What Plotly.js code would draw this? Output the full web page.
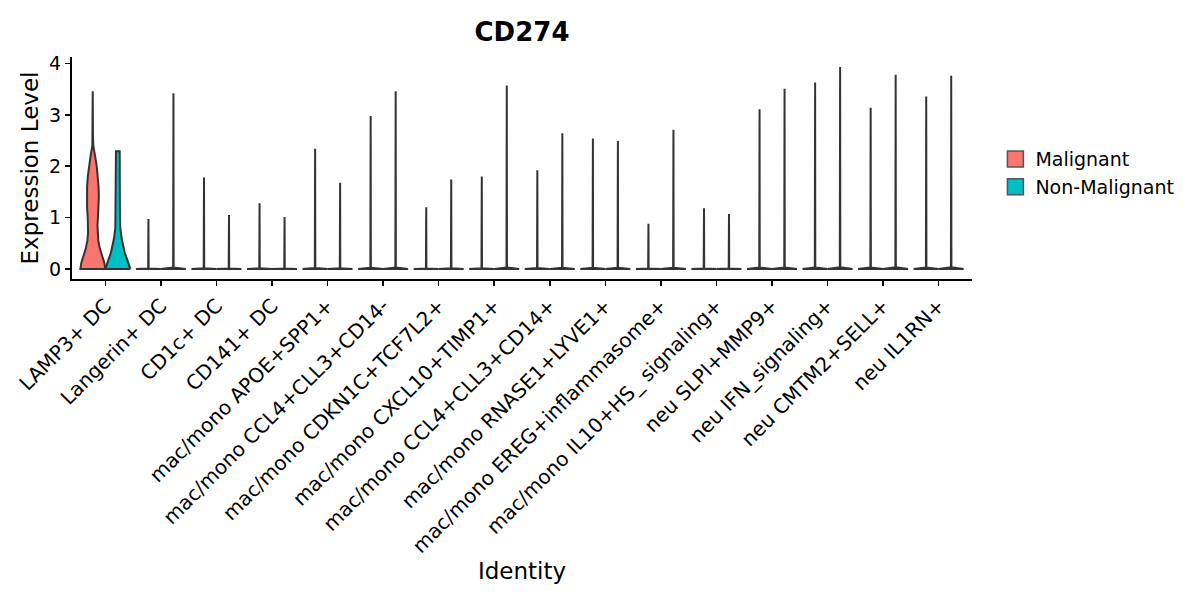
<!DOCTYPE html>
<html>
<head>
<meta charset="utf-8">
<script src="https://cdn.plot.ly/plotly-3.0.1.min.js"></script>
<style>html,body{margin:0;padding:0;background:#fff;}#chart{width:1200px;height:600px;}</style>
</head>
<body>
<div id="chart"></div>
<script>
// ---- data ----
const categories = [
  "LAMP3+ DC", "Langerin+ DC", "CD1c+ DC", "CD141+ DC",
  "mac/mono APOE+SPP1+", "mac/mono CCL4+CLL3+CD14-", "mac/mono CDKN1C+TCF7L2+",
  "mac/mono CXCL10+TIMP1+", "mac/mono CCL4+CLL3+CD14+", "mac/mono RNASE1+LYVE1+",
  "mac/mono EREG+inflammasome+", "mac/mono IL10+HS_ signaling+",
  "neu SLPI+MMP9+", "neu IFN_signaling+", "neu CMTM2+SELL+", "neu IL1RN+"
];
const groups = ["Malignant", "Non-Malignant"];
// maximum expression per violin
const malignantMax    = [3.46, 0.97, 1.78, 1.28, 2.34, 2.98, 1.20, 1.80, 1.92, 2.54, 0.88, 1.18, 3.11, 3.63, 3.14, 3.36];
const nonMalignantMax = [2.29, 3.42, 1.05, 1.01, 1.68, 3.46, 1.74, 3.57, 2.64, 2.49, 2.71, 1.07, 3.51, 3.93, 3.78, 3.76];
// density profile (relative width) of the LAMP3+ DC violins
const lampMalLevels = [0, 0.12, 0.25, 0.4, 0.55, 0.7, 0.85, 1.0, 1.2, 1.4, 1.6, 1.8, 2.0, 2.2, 2.4, 2.6, 3.0, 3.46];
const lampMalWidths = [1.0, 0.92, 0.75, 0.56, 0.44, 0.38, 0.37, 0.41, 0.46, 0.48, 0.46, 0.40, 0.31, 0.18, 0.04, 0.012, 0.01, 0.008];
const lampNonLevels = [0, 0.1, 0.2, 0.32, 0.45, 0.6, 0.8, 1.0, 1.5, 2.0, 2.29];
const lampNonWidths = [1.0, 0.88, 0.72, 0.55, 0.42, 0.30, 0.20, 0.17, 0.16, 0.155, 0.15];
// profile of the violins whose cells are almost all zero
const flatLevelsFrac = [0, 0.008, 1];
const flatWidths = [1.0, 0.02, 0.005];

const colors = {"Malignant": "#F8766D", "Non-Malignant": "#00BFC4"};

const halfWidth = 0.225;
const dodge = 0.225;
const outline = "#333333";

function violinPath(center, levels, widths) {
  const xs = [], ys = [];
  for (let k = 0; k < levels.length; k++) { xs.push(center + widths[k] * halfWidth); ys.push(levels[k]); }
  for (let k = levels.length - 1; k >= 0; k--) { xs.push(center - widths[k] * halfWidth); ys.push(levels[k]); }
  xs.push(xs[0]); ys.push(ys[0]);
  return {xs, ys};
}

function buildTrace(group, maxArr, firstLevels, firstWidths, offset) {
  const X = [], Y = [];
  categories.forEach((c, i) => {
    let levels, widths;
    if (i === 0) { levels = firstLevels; widths = firstWidths; }
    else { levels = flatLevelsFrac.map(f => f * maxArr[i]); widths = flatWidths; }
    const p = violinPath(i + offset, levels, widths);
    X.push(...p.xs, null); Y.push(...p.ys, null);
  });
  return {
    type: "scatter", mode: "lines", name: group, x: X, y: Y,
    fill: "toself", fillcolor: colors[group],
    line: {color: outline, width: 2},
    hoverinfo: "skip", showlegend: false
  };
}

function legendKey(group) {
  return {
    type: "scatter", mode: "markers", name: group, x: [null], y: [null],
    marker: {symbol: "square", size: 16, color: colors[group], line: {color: "#555555", width: 1.5}},
    showlegend: true, hoverinfo: "skip"
  };
}

const traces = [
  buildTrace("Malignant", malignantMax, lampMalLevels, lampMalWidths, -dodge),
  buildTrace("Non-Malignant", nonMalignantMax, lampNonLevels, lampNonWidths, dodge),
  legendKey("Malignant"),
  legendKey("Non-Malignant")
];

const font = "DejaVu Sans, sans-serif";
const layout = {
  width: 1200, height: 600,
  paper_bgcolor: "#fff", plot_bgcolor: "#fff",
  margin: {l: 72, r: 228, t: 57, b: 321},
  title: {text: "<b>CD274</b>", font: {family: font, size: 26, color: "#000"},
          x: 0.5, xref: "paper", xanchor: "center", y: 0.947, yref: "container", yanchor: "middle"},
  xaxis: {
    range: [-0.6, categories.length - 0.4],
    tickvals: categories.map((c, i) => i), ticktext: categories,
    tickangle: -45, tickfont: {family: font, size: 20, color: "#000"},
    showline: true, linecolor: "#000", linewidth: 2,
    ticks: "outside", ticklen: 5, tickwidth: 1.5, tickcolor: "#000",
    showgrid: false, zeroline: false, automargin: false,
    title: {text: "Identity", font: {family: font, size: 23, color: "#000"}, standoff: 2}
  },
  yaxis: {
    range: [-0.197, 4.127],
    tickvals: [0, 1, 2, 3, 4],
    tickfont: {family: font, size: 19, color: "#000"},
    showline: true, linecolor: "#000", linewidth: 2,
    ticks: "outside", ticklen: 5, tickwidth: 1.5, tickcolor: "#000",
    showgrid: false, zeroline: false, automargin: false,
    title: {text: "Expression Level", font: {family: font, size: 23, color: "#000"}, standoff: 4}
  },
  legend: {x: 1.026, xanchor: "left", y: 0.477, yanchor: "middle",
           font: {family: font, size: 19, color: "#000"}, bgcolor: "rgba(0,0,0,0)",
           tracegroupgap: 0, itemsizing: "trace"},
  showlegend: true
};

Plotly.newPlot("chart", traces, layout, {displayModeBar: false, staticPlot: true});
</script>
</body>
</html>
